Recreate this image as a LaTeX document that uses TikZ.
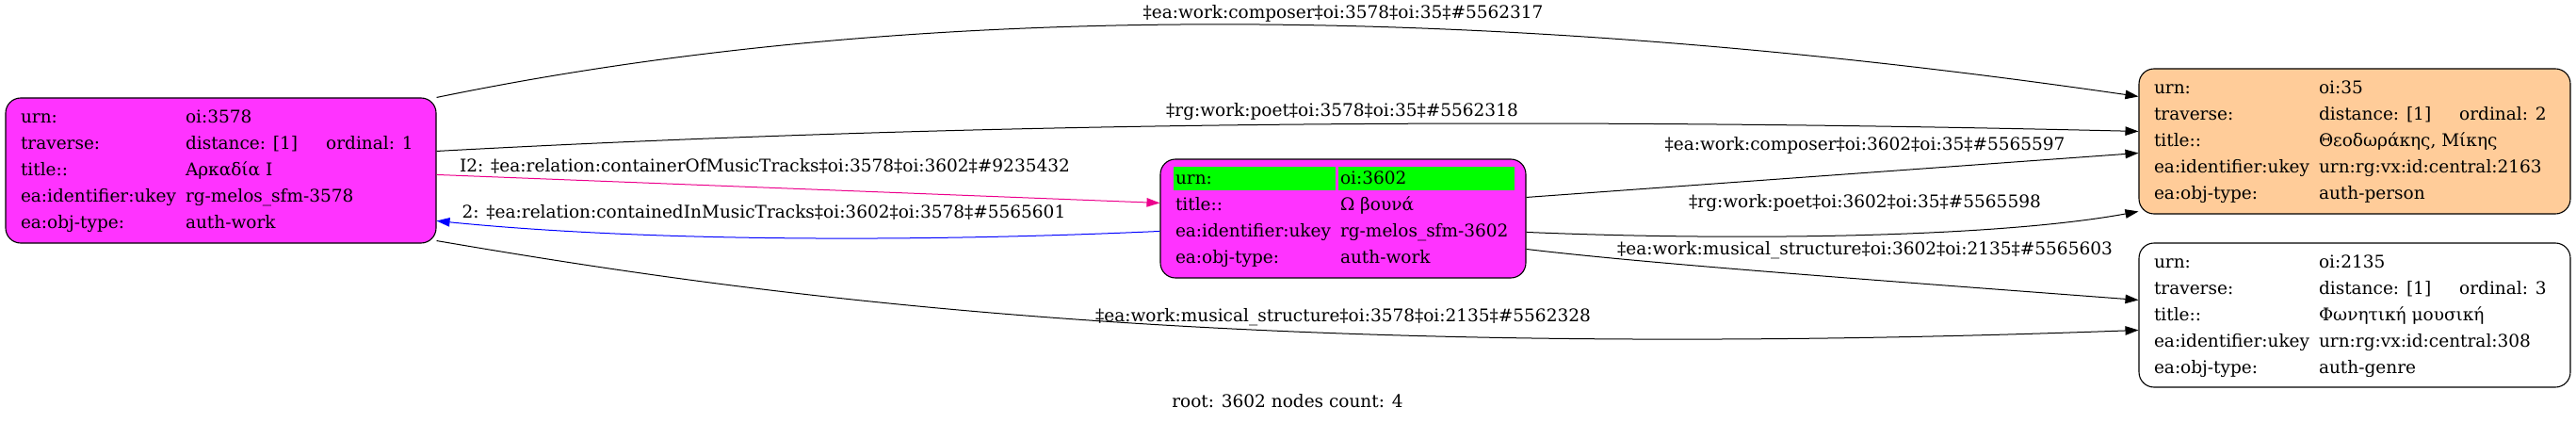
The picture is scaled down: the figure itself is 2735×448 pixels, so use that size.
\documentclass[tikz,border=0pt]{standalone}
\usepackage{fontspec}
\setmainfont{DejaVu Serif}
\usetikzlibrary{arrows.meta}
\definecolor{workmag}{RGB}{255,51,255}
\definecolor{personpeach}{RGB}{255,204,153}
\definecolor{rootgreen}{RGB}{0,255,0}

\begin{document}
\begin{tikzpicture}[x=1pt,y=1pt,
	every node/.style={font=\fontsize{18.5}{28}\selectfont},
	rec/.style={draw, rounded corners=16pt, inner sep=0pt, line width=1.1pt},
	rel/.style={line width=1pt, -{Triangle[length=14pt,width=9.5pt]}},
	lbl/.style={inner sep=0pt}]
	%\draw[help lines] (0,0) grid (2735,448);
	\useasboundingbox (0,0) rectangle (2735,448);
	
	% vertices
	\node[rec, fill=workmag, minimum width=457pt, minimum height=154pt] (a3578) at (234.5,267) {%
		\begin{tabular}{@{}p{175pt}@{}p{250pt}@{}}
			urn: & oi:3578\\
			traverse: & distance: [1]\hspace{30pt}ordinal: 1\\
			title:: & Αρκαδία I\\
			ea:identifier:ukey & rg-melos\_sfm-3578\\
			ea:obj-type: & auth-work
		\end{tabular}};
	\node[rec, fill=workmag, minimum width=388pt, minimum height=126pt,
		path picture={
			\fill[rootgreen, sharp corners] ([shift={(14,-8)}]path picture bounding box.north west) rectangle ++(172,-25);
			\fill[rootgreen, sharp corners] ([shift={(189,-8)}]path picture bounding box.north west) rectangle ++(187,-25);}]
		(a3602) at (1426,216) {%
		\begin{tabular}{@{}p{175pt}@{}p{181pt}@{}}
			urn: & oi:3602\\
			title:: & Ω βουνά\\
			ea:identifier:ukey & rg-melos\_sfm-3602\\
			ea:obj-type: & auth-work
		\end{tabular}};
	\node[rec, fill=personpeach, minimum width=458pt, minimum height=154pt] (a35) at (2500,298) {%
		\begin{tabular}{@{}p{175pt}@{}p{251pt}@{}}
			urn: & oi:35\\
			traverse: & distance: [1]\hspace{30pt}ordinal: 2\\
			title:: & Θεοδωράκης, Μίκης\\
			ea:identifier:ukey & urn:rg:vx:id:central:2163\\
			ea:obj-type: & auth-person
		\end{tabular}};
	\node[rec, fill=white, minimum width=458pt, minimum height=153pt] (a2135) at (2500,113.5) {%
		\begin{tabular}{@{}p{175pt}@{}p{251pt}@{}}
			urn: & oi:2135\\
			traverse: & distance: [1]\hspace{30pt}ordinal: 3\\
			title:: & Φωνητική μουσική\\
			ea:identifier:ukey & urn:rg:vx:id:central:308\\
			ea:obj-type: & auth-genre
		\end{tabular}};
	
	% relations
	\draw[rel] (a3578.north east) .. controls (950,445) and (1550,450) .. ([yshift=-30pt]a35.north west)
		node[lbl] (e1) at (1426,434) {‡ea:work:composer‡oi:3578‡oi:35‡\#5562317};
	\draw[rel] ([yshift=-57pt]a3578.north east) .. controls (1100,322) and (1700,322) .. ([yshift=-67pt]a35.north west)
		node[lbl] (e2) at (1425,329) {‡rg:work:poet‡oi:3578‡oi:35‡\#5562318};
	\draw[rel, magenta] ([yshift=-82pt]a3578.north east) -- ([yshift=-47pt]a3602.north west)
		node[lbl, black] (e3) at (812,272) {I2: ‡ea:relation:containerOfMusicTracks‡oi:3578‡oi:3602‡\#9235432};
	\draw[rel, blue] ([yshift=-77pt]a3602.north west) .. controls (1000,192) and (700,190) .. ([yshift=-131pt]a3578.north east)
		node[lbl, black] (e4) at (811,223) {2: ‡ea:relation:containedInMusicTracks‡oi:3602‡oi:3578‡\#5565601};
	\draw[rel] ([yshift=-41pt]a3602.north east) -- ([yshift=-90pt]a35.north west)
		node[lbl] (e5) at (1980,294) {‡ea:work:composer‡oi:3602‡oi:35‡\#5565597};
	\draw[rel] ([yshift=-78pt]a3602.north east) .. controls (1850,192) and (2120,196) .. ([yshift=-152pt]a35.north west)
		node[lbl] (e6) at (1980,232) {‡rg:work:poet‡oi:3602‡oi:35‡\#5565598};
	\draw[rel] ([yshift=-96pt]a3602.north east) .. controls (1750,168) and (2000,150) .. ([yshift=-61pt]a2135.north west)
		node[lbl] (e7) at (1980,182) {‡ea:work:musical\_structure‡oi:3602‡oi:2135‡\#5565603};
	\draw[rel] ([yshift=3pt]a3578.south east) .. controls (800,135) and (1300,62) .. ([yshift=-93pt]a2135.north west)
		node[lbl] (e8) at (1426,111) {‡ea:work:musical\_structure‡oi:3578‡oi:2135‡\#5562328};
	
	\node (cap) at (1367,22) {root: 3602 nodes count: 4};
\end{tikzpicture}
\end{document}
